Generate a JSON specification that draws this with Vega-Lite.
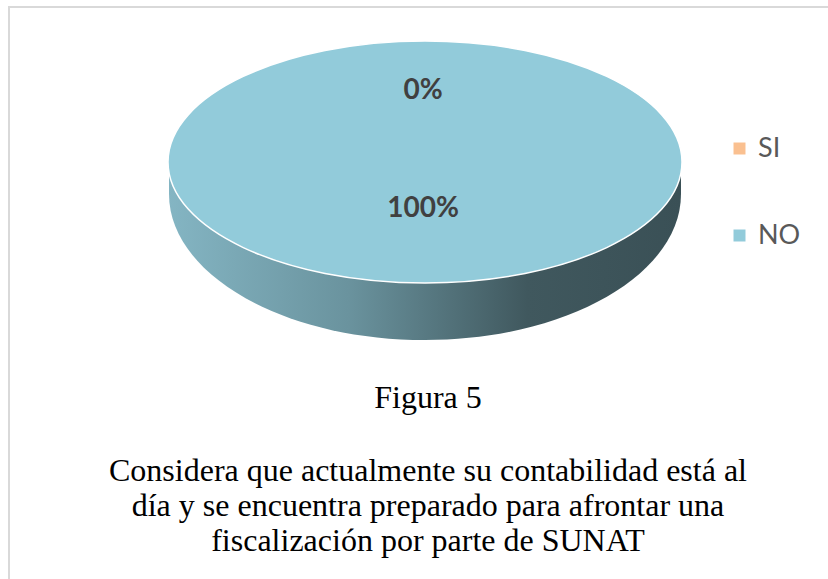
{
  "$schema": "https://vega.github.io/schema/vega-lite/v6.json",
  "autosize": {"type": "none"},
  "width": 844,
  "height": 597,
  "padding": {"left": 9, "top": 7, "right": -25, "bottom": -25},
  "background": "#ffffff",
  "view": {"stroke": "#d9d9d9", "strokeWidth": 2, "fill": "#ffffff"},
  "config": {
    "view": {"stroke": "#d9d9d9", "strokeWidth": 2},
    "legend": {
      "orient": "none",
      "legendX": 717,
      "legendY": 128,
      "symbolType": "square",
      "symbolSize": 144,
      "symbolStrokeWidth": 0,
      "symbolOpacity": 1,
      "labelFont": "Lato",
      "labelFontSize": 27,
      "labelColor": "#595959",
      "labelOffset": 5,
      "rowPadding": 59,
      "padding": 0
    }
  },
  "title": {
    "text": "Figura 5",
    "subtitle": [
      "Considera que actualmente su contabilidad está al",
      "día y se encuentra preparado para afrontar una",
      "fiscalización por parte de SUNAT"
    ],
    "orient": "bottom",
    "anchor": "middle",
    "offset": -221,
    "dx": -3,
    "font": "Liberation Serif",
    "fontSize": 32,
    "fontWeight": "normal",
    "color": "#000000",
    "subtitleFont": "Liberation Serif",
    "subtitleFontSize": 32,
    "subtitleColor": "#000000",
    "subtitlePadding": 41,
    "subtitleLineHeight": 35
  },
  "data": {
    "values": [
      {"respuesta": "SI", "porcentaje": 0, "etiqueta": "0%"},
      {"respuesta": "NO", "porcentaje": 100, "etiqueta": "100%"}
    ]
  },
  "layer": [
    {
      "transform": [{"filter": "datum.porcentaje > 0"}],
      "mark": {
        "type": "point",
        "shape": "M-0.9961,0L-0.9961,0.1245C-0.9961,0.4383,-0.5502,0.6926,0,0.6926C0.5502,0.6926,0.9961,0.4383,0.9961,0.1245L0.9961,0Z",
        "size": 264196,
        "filled": true,
        "opacity": 1,
        "strokeWidth": 0,
        "xOffset": -6,
        "yOffset": -143.5,
        "fill": {
          "gradient": "linear",
          "x1": 0, "y1": 0, "x2": 1, "y2": 0,
          "stops": [
            {"offset": 0, "color": "#84b5c3"},
            {"offset": 0.35, "color": "#6a939e"},
            {"offset": 0.7, "color": "#40585e"},
            {"offset": 1, "color": "#3a5056"}
          ]
        }
      },
      "encoding": {}
    },
    {
      "transform": [{"filter": "datum.porcentaje > 0"}],
      "mark": {
        "type": "point",
        "shape": "M-1,0C-1,-0.26,-0.5523,-0.4708,0,-0.4708C0.5523,-0.4708,1,-0.26,1,0C1,0.26,0.5523,0.4708,0,0.4708C-0.5523,0.4708,-1,0.26,-1,0Z",
        "size": 264196,
        "filled": true,
        "opacity": 1,
        "stroke": "#ffffff",
        "strokeWidth": 1.5,
        "xOffset": -6,
        "yOffset": -143.5
      },
      "encoding": {
        "color": {
          "field": "respuesta",
          "type": "nominal",
          "scale": {"domain": ["SI", "NO"], "range": ["#fac090", "#92cbda"]},
          "legend": {"title": null}
        }
      }
    },
    {
      "mark": {
        "type": "text",
        "radius": 59,
        "font": "Lato",
        "fontSize": 28,
        "fontWeight": "bold",
        "fill": "#404040",
        "align": "center",
        "baseline": "middle",
        "xOffset": -8,
        "yOffset": -156
      },
      "encoding": {
        "theta": {"field": "porcentaje", "type": "quantitative", "stack": true},
        "text": {"field": "etiqueta", "type": "nominal"}
      }
    }
  ]
}
